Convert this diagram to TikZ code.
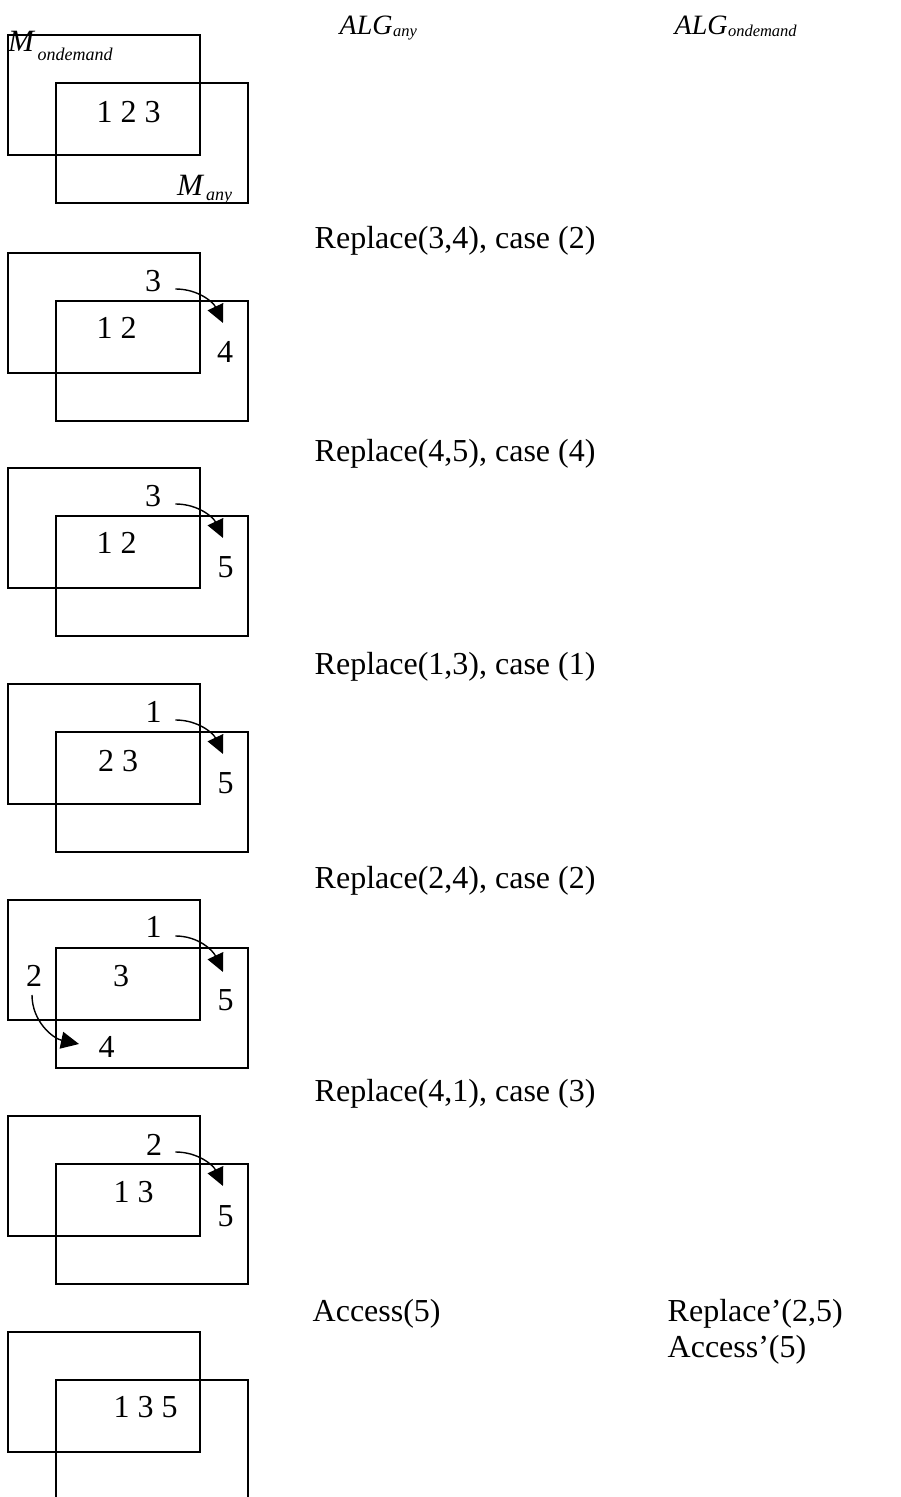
\documentclass[tikz,border=0pt]{standalone}
\usepackage{fontspec}
\setmainfont{Liberation Serif}
\usetikzlibrary{arrows.meta}
\tikzset{
  box/.style={line width=1.8pt},
  num/.style={font=\fontsize{32}{38}\selectfont, inner sep=0pt, anchor=base west},
  txt/.style={font=\fontsize{32}{38}\selectfont, inner sep=0pt, anchor=base west},
  bigit/.style={font=\fontsize{31}{36}\selectfont\itshape, inner sep=0pt, anchor=base west},
  algit/.style={font=\fontsize{28}{32}\selectfont\itshape, inner sep=0pt, anchor=base west},
  subit/.style={font=\fontsize{18}{20}\selectfont\itshape, inner sep=0pt, anchor=base west},
  algsub/.style={font=\fontsize{16.5}{19}\selectfont\itshape, inner sep=0pt, anchor=base west},
  arr/.style={line width=1.4pt, -{Triangle[length=18pt,width=17pt]}}
}
\begin{document}
\begin{tikzpicture}[x=1pt,y=1pt]
\useasboundingbox (0,0) rectangle (901,1497);
\clip (0,0) rectangle (901,1497);
% headers
\node[algit] (alga) at (339.5,1462) {ALG};
\node[algsub] (algas) at (alga.base east) [yshift=-2pt] {any};
\node[algit] (algo) at (674.5,1462) {ALG};
\node[algsub] (algos) at (algo.base east) [yshift=-2pt] {ondemand};
% labels
\node[txt] (l2) at (314.5,1248) {Replace(3,4), case (2)};
\node[txt] (l3) at (314.5,1035) {Replace(4,5), case (4)};
\node[txt] (l4) at (314.5,822) {Replace(1,3), case (1)};
\node[txt] (l5) at (314.5,608) {Replace(2,4), case (2)};
\node[txt] (l6) at (314.5,395) {Replace(4,1), case (3)};
\node[txt] (l7) at (312.5,175) {Access(5)};
\node[txt] (r7a) at (667.5,175) {Replace’(2,5)};
\node[txt] (r7b) at (667.5,139) {Access’(5)};
% panel 1
\begin{scope}[shift={(0,1462)}]
\draw[box] (8,0) rectangle (200,-120);
\draw[box] (56,-48) rectangle (248,-168);
\node[bigit] (m1) at (8,-17) {M};
\node[subit] (m1s) at (37.5,-26) {ondemand};
\node[bigit] (m2) at (177,-161) {M};
\node[subit] (m2s) at (206,-166) {any};
\node[num] (p1c) at (96.5,-88) {1 2 3};
\end{scope}
% panel 2
\begin{scope}[shift={(0,1244)}]
\draw[box] (8,0) rectangle (200,-120);
\draw[box] (56,-48) rectangle (248,-168);
\node[num] (p2a) at (145,-39) {3};
\node[num] (p2c) at (96.5,-86) {1 2};
\node[num] (p2b) at (217,-110) {4};
\draw[arr] ([shift={(14,3)}]p2a.base east) to[out=0,in=115] ([shift={(6,40)}]p2b.base west);
\end{scope}
% panel 3
\begin{scope}[shift={(0,1029)}]
\draw[box] (8,0) rectangle (200,-120);
\draw[box] (56,-48) rectangle (248,-168);
\node[num] (p3a) at (145,-39) {3};
\node[num] (p3c) at (96.5,-86) {1 2};
\node[num] (p3b) at (217.5,-110) {5};
\draw[arr] ([shift={(14,3)}]p3a.base east) to[out=0,in=115] ([shift={(5.5,40)}]p3b.base west);
\end{scope}
% panel 4
\begin{scope}[shift={(0,813)}]
\draw[box] (8,0) rectangle (200,-120);
\draw[box] (56,-48) rectangle (248,-168);
\node[num] (p4a) at (145.5,-39) {1};
\node[num] (p4c) at (98,-88) {2 3};
\node[num] (p4b) at (217.5,-110) {5};
\draw[arr] ([shift={(13.5,3)}]p4a.base east) to[out=0,in=115] ([shift={(5.5,40)}]p4b.base west);
\end{scope}
% panel 5
\begin{scope}[shift={(0,597)}]
\draw[box] (8,0) rectangle (200,-120);
\draw[box] (56,-48) rectangle (248,-168);
\node[num] (p5a) at (145.5,-38) {1};
\node[num] (p5c) at (113,-87) {3};
\node[num] (p5d) at (26,-87) {2};
\node[num] (p5b) at (217.5,-111) {5};
\node[num] (p5e) at (98.5,-158) {4};
\draw[arr] ([shift={(13.5,2)}]p5a.base east) to[out=0,in=115] ([shift={(5.5,39)}]p5b.base west);
\draw[arr] ([shift={(6,-8)}]p5d.base west) to[out=-90,in=168] ([shift={(-19.5,14)}]p5e.base west);
\end{scope}
% panel 6
\begin{scope}[shift={(0,381)}]
\draw[box] (8,0) rectangle (200,-120);
\draw[box] (56,-48) rectangle (248,-168);
\node[num] (p6a) at (146,-40) {2};
\node[num] (p6c) at (113.5,-87) {1 3};
\node[num] (p6b) at (217.5,-111) {5};
\draw[arr] ([shift={(13,4)}]p6a.base east) to[out=0,in=115] ([shift={(5.5,41)}]p6b.base west);
\end{scope}
% panel 7
\begin{scope}[shift={(0,165)}]
\draw[box] (8,0) rectangle (200,-120);
\draw[box] (56,-48) rectangle (248,-168);
\node[num] (p7c) at (113.5,-86) {1 3 5};
\end{scope}
\end{tikzpicture}
\end{document}
